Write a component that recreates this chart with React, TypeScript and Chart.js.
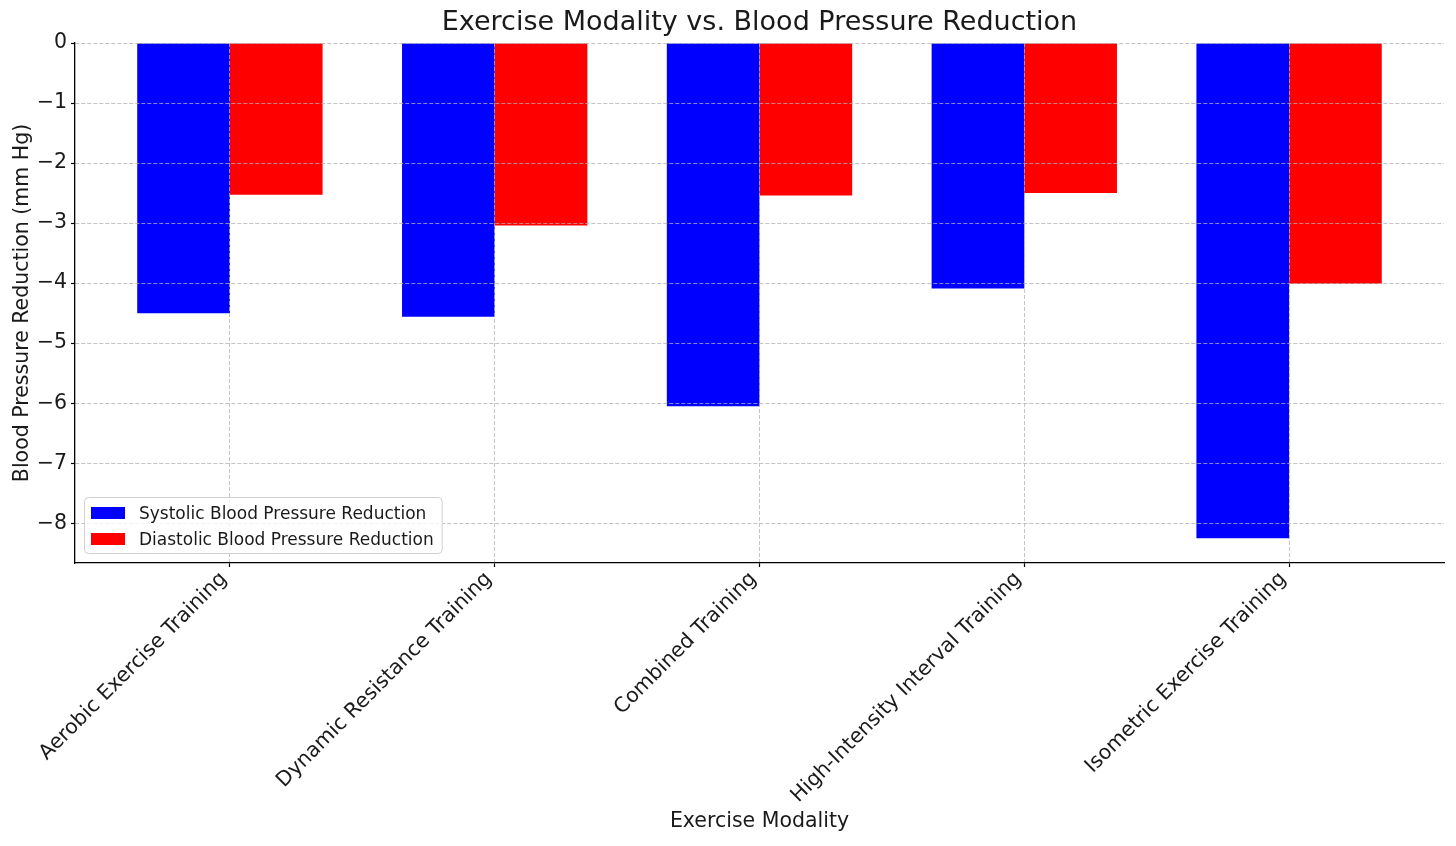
import React, { useEffect, useRef } from 'react';
import { Chart, registerables } from 'chart.js';

Chart.register(...registerables);

const categories = [
  'Aerobic Exercise Training',
  'Dynamic Resistance Training',
  'Combined Training',
  'High-Intensity Interval Training',
  'Isometric Exercise Training',
];
const systolic = [-4.5, -4.56, -6.05, -4.09, -8.25];
const diastolic = [-2.53, -3.04, -2.54, -2.5, -4.01];
const seriesLabels = ['Systolic Blood Pressure Reduction', 'Diastolic Blood Pressure Reduction'];
const seriesColors = ['#0000ff', '#ff0000'];
const yTicks = [0, -1, -2, -3, -4, -5, -6, -7, -8];
const chartTitle = 'Exercise Modality vs. Blood Pressure Reduction';
const xTitle = 'Exercise Modality';
const yTitle = 'Blood Pressure Reduction (mm Hg)';

const FONT = '"DejaVu Sans", "Liberation Sans", sans-serif';
const TEXT = '#1a1a1a';
const GRID = 'rgba(176,176,176,0.75)';

const fmtMinus = (v: number) => (v < 0 ? '\u2212' + Math.abs(v) : String(v));

const axesTitle = {
  id: 'axesTitle',
  afterDraw(chart: any) {
    const { ctx, chartArea } = chart;
    ctx.save();
    ctx.font = `27px ${FONT}`;
    ctx.fillStyle = TEXT;
    ctx.textAlign = 'center';
    ctx.textBaseline = 'middle';
    ctx.fillText(chartTitle, (chartArea.left + chartArea.right) / 2, 23);
    ctx.restore();
  },
};

const insideLegend = {
  id: 'insideLegend',
  afterDraw(chart: any) {
    const { ctx, chartArea } = chart;
    ctx.save();
    ctx.font = `17px ${FONT}`;
    const items = chart.data.datasets.map((d: any) => ({ label: d.label as string, color: d.backgroundColor as string }));
    const textW = Math.max(...items.map((i: any) => ctx.measureText(i.label).width));
    const boxH = 56;
    const x = chartArea.left + 9;
    const y = chartArea.bottom - 10 - boxH;
    const w = 7 + 34 + 14 + textW + 8;
    ctx.beginPath();
    (ctx as any).roundRect(x + 0.5, y + 0.5, w, boxH, 4);
    ctx.fillStyle = 'rgba(255,255,255,0.8)';
    ctx.fill();
    ctx.strokeStyle = '#d0d0d0';
    ctx.lineWidth = 1;
    ctx.stroke();
    items.forEach((it: any, i: number) => {
      const cy = y + 16 + i * 26;
      ctx.fillStyle = it.color;
      ctx.fillRect(x + 7, cy - 6, 34, 12);
      ctx.fillStyle = TEXT;
      ctx.textAlign = 'left';
      ctx.textBaseline = 'middle';
      ctx.fillText(it.label, x + 7 + 34 + 14, cy + 2);
    });
    ctx.restore();
  },
};

export default function App() {
  const ref = useRef<HTMLCanvasElement>(null);
  useEffect(() => {
    document.body.style.margin = '0';
    const allVals = [...systolic, ...diastolic];
    const yMin = Math.min(...allVals) * 1.05;
    const n = categories.length;
    const chart = new Chart(ref.current!, {
      type: 'bar',
      data: {
        datasets: [
          {
            label: seriesLabels[0],
            data: systolic.map((v, i) => ({ x: i, y: v })),
            backgroundColor: seriesColors[0],
            borderWidth: 0,
            barPercentage: 1,
            categoryPercentage: 0.7,
          },
          {
            label: seriesLabels[1],
            data: diastolic.map((v, i) => ({ x: i, y: v })),
            backgroundColor: seriesColors[1],
            borderWidth: 0,
            barPercentage: 1,
            categoryPercentage: 0.7,
          },
        ],
      },
      options: {
        animation: false,
        responsive: true,
        maintainAspectRatio: false,
        layout: { padding: { left: 0, right: 12, top: 43, bottom: 0 } },
        plugins: {
          legend: { display: false },
          tooltip: { enabled: false },
          title: { display: false },
        },
        scales: {
          x: {
            type: 'linear',
            min: -0.585,
            max: n - 1 + 0.585,
            offset: false,
            afterBuildTicks: (s: any) => {
              s.ticks = categories.map((_, i) => ({ value: i }));
            },
            afterFit: (s: any) => {
              s.height = 283;
            },
            grid: {
              display: true,
              offset: false,
              color: GRID,
              lineWidth: 1,
              z: 1,
              drawTicks: true,
              tickLength: 4,
              tickColor: '#000',
              tickWidth: 1.2,
            },
            border: { display: true, color: '#000', width: 1.3, dash: [4, 2], z: 1 },
            ticks: {
              autoSkip: false,
              minRotation: 45,
              maxRotation: 45,
              padding: 0,
              labelOffset: -6,
              color: TEXT,
              font: { family: FONT, size: 20.5 },
              callback: (v: any) => categories[v as number] ?? '',
            },
            title: {
              display: true,
              text: xTitle,
              color: TEXT,
              font: { family: FONT, size: 20.5 },
              padding: { top: 0, bottom: 12 },
            },
          },
          y: {
            type: 'linear',
            min: yMin,
            max: 0,
            afterBuildTicks: (s: any) => {
              s.ticks = yTicks.map((v) => ({ value: v }));
            },
            afterFit: (s: any) => {
              s.width = 75;
            },
            grid: {
              display: true,
              color: GRID,
              lineWidth: 1,
              z: 1,
              drawTicks: true,
              tickLength: 4,
              tickColor: '#000',
              tickWidth: 1.2,
            },
            border: { display: true, color: '#000', width: 1.3, dash: [4, 2], z: 1 },
            ticks: {
              padding: 4,
              color: TEXT,
              font: { family: FONT, size: 20.5 },
              callback: (v: any) => fmtMinus(v as number),
            },
            title: {
              display: true,
              text: yTitle,
              color: TEXT,
              font: { family: FONT, size: 20.5 },
              padding: { top: 10, bottom: 0 },
            },
          },
        },
      },
      plugins: [axesTitle, insideLegend],
    } as any);
    return () => chart.destroy();
  }, []);
  return (
    <div style={{ width: 1456, height: 846, position: 'relative' }}>
      <canvas ref={ref} />
    </div>
  );
}
